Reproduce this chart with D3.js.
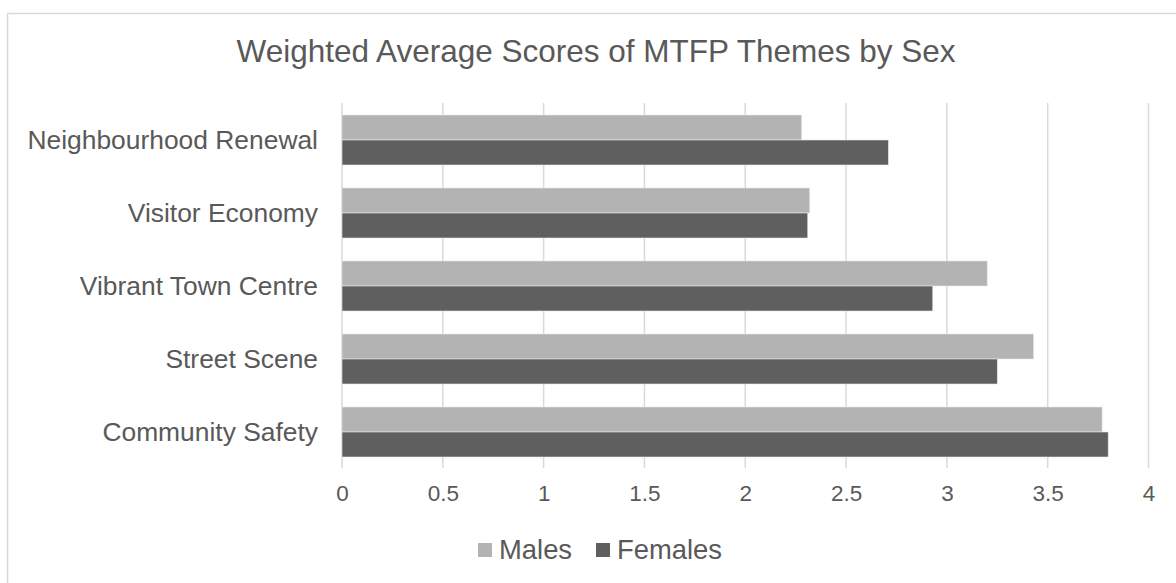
<!DOCTYPE html>
<html>
<head>
<meta charset="utf-8">
<script src="https://cdn.jsdelivr.net/npm/d3@7"></script>
<style>
  body { margin: 0; background: #fff; }
  text { font-family: "Liberation Sans", Arial, sans-serif; fill: #595959; }
</style>
</head>
<body>
<div id="chart"></div>
<script>
var categories = ["Neighbourhood Renewal", "Visitor Economy", "Vibrant Town Centre", "Street Scene", "Community Safety"];
var males = [2.28, 2.32, 3.20, 3.43, 3.77];
var females = [2.71, 2.31, 2.93, 3.25, 3.80];
var seriesNames = ["Males", "Females"];
var seriesColors = ["#b3b3b3", "#5f5f5f"];
var xTicks = [0, 0.5, 1, 1.5, 2, 2.5, 3, 3.5, 4];

var svg = d3.select("#chart").append("svg")
    .attr("width", 1176)
    .attr("height", 583);

// chart frame
svg.append("rect")
    .attr("x", 7.5).attr("y", 13.5)
    .attr("width", 1200).attr("height", 600)
    .attr("fill", "none")
    .attr("stroke", "#d9d9d9")
    .attr("stroke-width", 1.5);

svg.append("text")
    .attr("x", 596).attr("y", 62)
    .attr("text-anchor", "middle")
    .style("font-size", "31.5px")
    .text("Weighted Average Scores of MTFP Themes by Sex");

var x = d3.scaleLinear().domain([0, 4]).range([342, 1148.5]);
var y = d3.scaleBand().domain(categories).range([103.5, 468.5])
    .paddingInner(0.315).paddingOuter(0.1575);
var ys = d3.scaleBand().domain(seriesNames).range([0, y.bandwidth()]);

var data = categories.map(function(c, i) {
  return { cat: c, values: [males[i], females[i]] };
});

// gridlines
svg.append("g").selectAll("line")
    .data(xTicks)
  .enter().append("line")
    .attr("x1", function(d) { return x(d); })
    .attr("x2", function(d) { return x(d); })
    .attr("y1", 103)
    .attr("y2", 468)
    .attr("stroke", "#d9d9d9")
    .attr("stroke-width", 1.5);

// bars
var groups = svg.append("g").selectAll(".grp")
    .data(data)
  .enter().append("g")
    .attr("transform", function(d) { return "translate(0," + y(d.cat) + ")"; });

groups.selectAll("rect")
    .data(function(d) { return d.values.map(function(v, j) { return { name: seriesNames[j], v: v, j: j }; }); })
  .enter().append("rect")
    .attr("x", x(0))
    .attr("y", function(d) { return ys(d.name); })
    .attr("width", function(d) { return x(d.v) - x(0); })
    .attr("height", ys.bandwidth())
    .attr("fill", function(d) { return seriesColors[d.j]; })
    .attr("stroke", "#e8e8e8")
    .attr("stroke-width", 0.6);

// category labels
var yAxis = svg.append("g")
    .attr("transform", "translate(" + (x(0) - 24) + ",0)")
    .call(d3.axisLeft(y).tickSize(0).tickPadding(0));
yAxis.select(".domain").remove();
yAxis.selectAll("text")
    .attr("dy", "0.35em")
    .style("font-size", "26.4px")
    .style("font-family", "'Liberation Sans', Arial, sans-serif")
    .attr("fill", "#595959");

// x tick labels
var xAxis = svg.append("g")
    .attr("transform", "translate(0,485)")
    .call(d3.axisBottom(x).tickValues(xTicks).tickSize(0).tickPadding(0).tickFormat(d3.format("")));
xAxis.select(".domain").remove();
xAxis.selectAll("text")
    .attr("dy", "0.71em")
    .style("font-size", "22.5px")
    .style("font-family", "'Liberation Sans', Arial, sans-serif")
    .attr("fill", "#595959");

// legend
var legendX = [478, 596];
var legend = svg.append("g").selectAll(".leg")
    .data(seriesNames)
  .enter().append("g")
    .attr("transform", function(d, i) { return "translate(" + legendX[i] + ",543)"; });
legend.append("rect")
    .attr("width", 14).attr("height", 14)
    .attr("fill", function(d, i) { return seriesColors[i]; });
legend.append("text")
    .attr("x", 21).attr("y", 16)
    .style("font-size", "27.4px")
    .text(function(d) { return d; });
</script>
</body>
</html>
